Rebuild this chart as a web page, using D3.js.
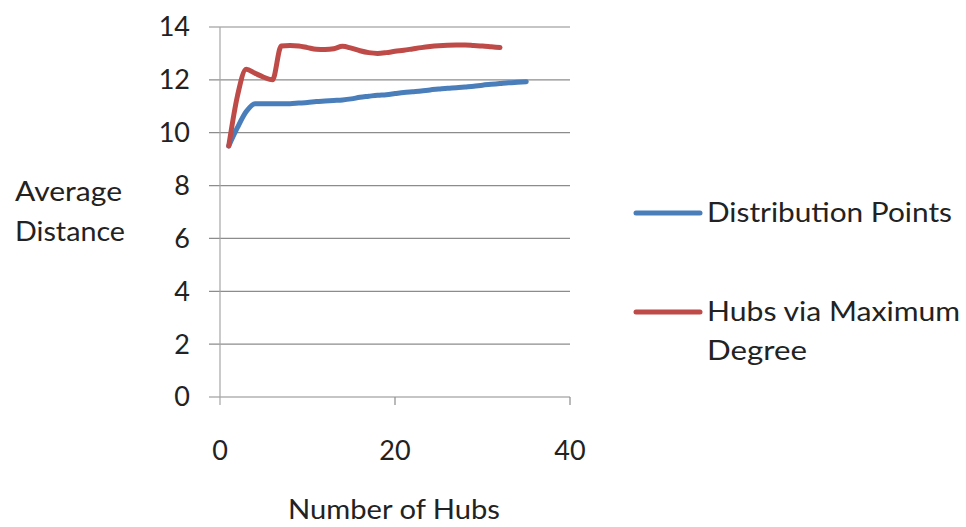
<!DOCTYPE html>
<html><head><meta charset="utf-8">
<script src="https://cdn.jsdelivr.net/npm/d3@7"></script>
<style>body{margin:0;background:#fff}text{font-family:Lato,"Open Sans",sans-serif;fill:#222}</style>
</head><body><svg id="c" width="966" height="527"></svg>
<script>
const hubs = d3.range(1, 36);
const distributionPoints = [9.5,10.2,10.8,11.1,11.1,11.1,11.1,11.1,11.12,11.14,11.18,11.2,11.22,11.24,11.28,11.34,11.38,11.42,11.44,11.48,11.52,11.55,11.58,11.62,11.65,11.68,11.7,11.73,11.76,11.8,11.83,11.86,11.89,11.91,11.93];
const maxDegree = [9.5,11.4,12.4,12.25,12.1,12.0,13.28,13.3,13.28,13.22,13.16,13.15,13.18,13.27,13.2,13.1,13.03,13.0,13.03,13.08,13.12,13.17,13.22,13.26,13.29,13.31,13.32,13.32,13.3,13.28,13.25,13.22];
const yTicks = [0,2,4,6,8,10,12,14];
const xTicks = [0,20,40];
const seriesNames = ["Distribution Points","Hubs via Maximum Degree"];
const colors = ["#4a7ebb","#be4b48"];

const svg = d3.select("#c");
const x = d3.scaleLinear().domain([0,40]).range([220,570]);
const y = d3.scaleLinear().domain([0,14]).range([397,27]);

svg.append("g").selectAll("line").data(yTicks).join("line")
  .attr("x1",209).attr("x2",570).attr("y1",d=>y(d)).attr("y2",d=>y(d))
  .attr("stroke","#8c8c8c").attr("stroke-width",1.2);
svg.append("line").attr("x1",220).attr("x2",220).attr("y1",27).attr("y2",405).attr("stroke","#a6a6a6").attr("stroke-width",1.2);
svg.append("g").selectAll("line").data(xTicks.slice(1)).join("line")
  .attr("x1",d=>x(d)).attr("x2",d=>x(d)).attr("y1",397).attr("y2",405).attr("stroke","#8c8c8c").attr("stroke-width",1.2);

svg.append("g").selectAll("text").data(yTicks).join("text")
  .attr("x",190).attr("y",d=>y(d)).attr("dy","0.35em").attr("text-anchor","end")
  .attr("font-size",27).text(d=>d);
svg.append("g").selectAll("text").data(xTicks).join("text")
  .attr("x",d=>x(d)).attr("y",451).attr("dy","0.35em").attr("text-anchor","middle")
  .attr("font-size",27).text(d=>d);

const line = d3.line().x((d,i)=>x(hubs[i])).y(d=>y(d)).curve(d3.curveMonotoneX);
[distributionPoints, maxDegree].forEach((s,k)=>{
  svg.append("path").datum(s).attr("d",line).attr("fill","none")
    .attr("stroke",colors[k]).attr("stroke-width",5).attr("stroke-linejoin","round").attr("stroke-linecap","round");
});

function label(t, xx, yy, len, fs){
  svg.append("text").attr("x",xx).attr("y",yy).attr("dy","0.35em").attr("font-size",fs||27)
    .attr("textLength",len).attr("lengthAdjust","spacingAndGlyphs").text(t);
}
label("Average",15,192,107);
label("Distance",15,232,110);
label("Number of Hubs",288,510,212,26);

const ly = [213, 312];
ly.forEach((yy,k)=>{
  svg.append("line").attr("x1",636).attr("x2",700).attr("y1",yy).attr("y2",yy).attr("stroke",colors[k]).attr("stroke-width",5).attr("stroke-linecap","round");
});
label(seriesNames[0],707,213,245);
label("Hubs via Maximum",707,312,253);
label("Degree",707,351,100);
</script></body></html>
